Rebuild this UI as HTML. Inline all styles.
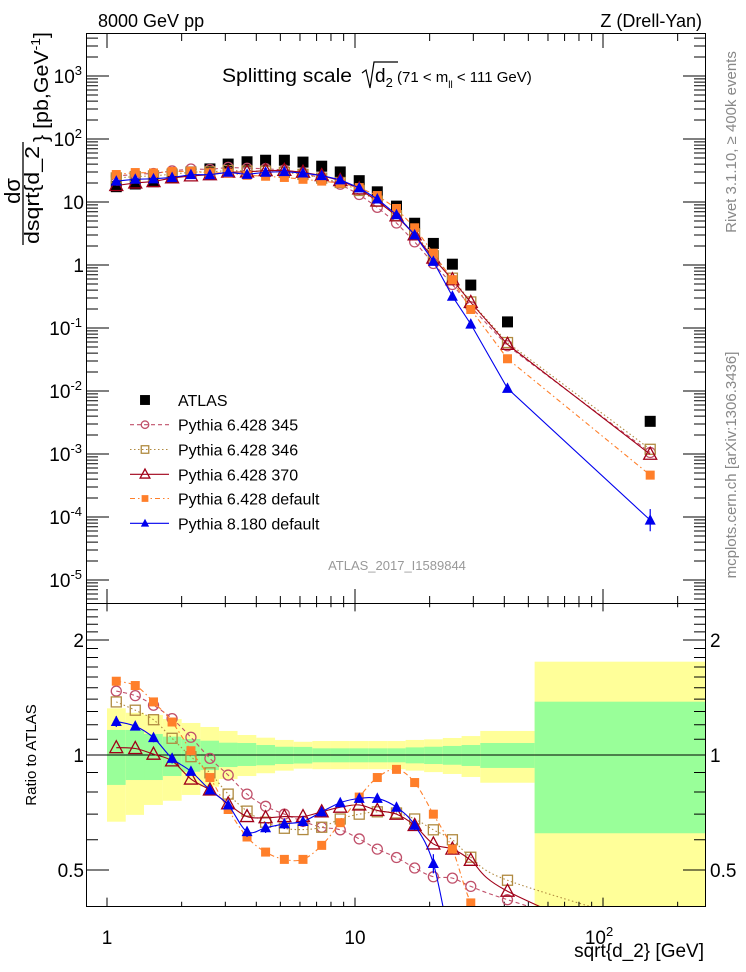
<!DOCTYPE html>
<html><head><meta charset="utf-8"><style>
html,body{margin:0;padding:0;background:#fff;overflow:hidden;width:746px;height:972px;}
svg{display:block;font-family:"Liberation Sans",sans-serif;}
</style></head><body>
<svg id="chart" width="746" height="972" viewBox="0 0 746 972" xmlns="http://www.w3.org/2000/svg">
<defs>
<clipPath id="clipTop"><rect x="87" y="33" width="618" height="570"/></clipPath>
<clipPath id="clipRat"><rect x="87" y="603" width="618" height="304"/></clipPath>
</defs>
<g id="bands" clip-path="url(#clipRat)"></g>
<g id="ticks"></g>
<line x1="87" y1="755" x2="705" y2="755" stroke="#000" stroke-width="1"/>
<g id="seriesTop" clip-path="url(#clipTop)"></g>
<g id="seriesRat" clip-path="url(#clipRat)"></g>
<rect x="86.5" y="33.5" width="619" height="570" fill="none" stroke="#000"/>
<rect x="86.5" y="603.5" width="619" height="303" fill="none" stroke="#000"/>
<g id="labels" font-size="19"></g>
<text x="98" y="27" font-size="18">8000 GeV pp</text>
<text x="702" y="27" font-size="18" text-anchor="end">Z (Drell-Yan)</text>
<g font-size="19">
<text x="222" y="82" textLength="130" lengthAdjust="spacingAndGlyphs">Splitting scale</text>
<path d="M362 73 L366 70 L370 88 L374 62 L398 62" fill="none" stroke="#000" stroke-width="1.2"/>
<text x="375" y="82">d<tspan font-size="13" dy="5">2</tspan><tspan dy="-5" font-size="15"> (71 &lt; m</tspan><tspan font-size="10" dy="6">ll</tspan><tspan dy="-6" font-size="15"> &lt; 111 GeV)</tspan></text>
</g>
<text x="397" y="570" font-size="13" fill="#999" text-anchor="middle">ATLAS_2017_I1589844</text>
<text transform="translate(736,142) rotate(-90)" font-size="15" fill="#888" text-anchor="middle">Rivet 3.1.10, ≥ 400k events</text>
<text transform="translate(736,465) rotate(-90)" font-size="15" fill="#888" text-anchor="middle">mcplots.cern.ch [arXiv:1306.3436]</text>
<g font-size="20">
<text transform="translate(20,191) rotate(-90)" text-anchor="middle" font-size="22">dσ</text>
<line x1="23" y1="142" x2="23" y2="245" stroke="#000" stroke-width="1.3"/>
<text transform="translate(39,244) rotate(-90)" textLength="98" lengthAdjust="spacingAndGlyphs">dsqrt{d_2</text>
<text transform="translate(48,142) rotate(-90)" textLength="110" lengthAdjust="spacingAndGlyphs">} [pb,GeV<tspan font-size="13" dy="-8">-1</tspan><tspan dy="8">]</tspan></text>
</g>
<text transform="translate(36,755) rotate(-90)" font-size="15" text-anchor="middle">Ratio to ATLAS</text>
<text x="704" y="957" font-size="19" text-anchor="end">sqrt{d_2} [GeV]</text>
<g id="legend" font-size="16"></g>
</svg>
<script>
const centers=[1.09,1.30,1.54,1.83,2.18,2.6,3.08,3.67,4.36,5.19,6.17,7.34,8.72,10.4,12.3,14.7,17.4,20.7,24.7,29.3,41.2,155];
const edges=[1.0,1.19,1.41,1.68,2.0,2.38,2.83,3.36,4.0,4.76,5.66,6.73,8.0,9.51,11.3,13.5,16.0,19.0,22.6,26.9,32,53,260];
const atlas=[17.5,19.3,21,25,30,33.5,40,43.5,46,46,43,37,30,21.8,14.5,8.6,4.6,2.2,1.03,0.48,0.125,0.0033];
const yelHi=[1.325,1.29,1.273,1.242,1.213,1.184,1.156,1.128,1.11,1.095,1.083,1.088,1.088,1.088,1.088,1.088,1.095,1.099,1.108,1.121,1.156,1.755];
const grnHi=[1.163,1.163,1.135,1.117,1.101,1.09,1.077,1.075,1.062,1.051,1.05,1.041,1.041,1.041,1.041,1.041,1.047,1.051,1.056,1.062,1.075,1.379];
const grnLo=[0.835,0.86,0.86,0.881,0.904,0.913,0.93,0.936,0.94,0.947,0.95,0.957,0.957,0.957,0.957,0.957,0.951,0.947,0.943,0.936,0.925,0.624];
const yelLo=[0.669,0.697,0.74,0.759,0.786,0.826,0.865,0.881,0.896,0.91,0.921,0.918,0.918,0.918,0.918,0.918,0.91,0.902,0.892,0.876,0.846,0.3];
const r345=[1.47,1.43,1.35,1.245,1.113,0.98,0.886,0.79,0.734,0.70,0.67,0.647,0.637,0.603,0.567,0.539,0.506,0.48,0.476,0.453,0.418,0.32];
const r346=[1.377,1.31,1.237,1.106,0.99,0.898,0.79,0.713,0.667,0.643,0.638,0.647,0.68,0.70,0.71,0.705,0.68,0.637,0.60,0.54,0.47,0.36];
const r370=[1.045,1.04,1.005,0.965,0.865,0.81,0.745,0.69,0.685,0.69,0.69,0.71,0.73,0.74,0.716,0.70,0.654,0.585,0.567,0.53,0.44,0.30];
const rDef=[1.56,1.52,1.377,1.22,1.026,0.873,0.72,0.61,0.557,0.533,0.533,0.58,0.665,0.776,0.873,0.917,0.847,0.70,0.567,0.41,0.26,0.14];
const r8=[1.224,1.19,1.11,0.98,0.906,0.81,0.74,0.63,0.645,0.66,0.67,0.71,0.75,0.77,0.77,0.73,0.655,0.52,0.31,0.24,0.088,0.027];
const r8err=[0.04,0.03,0.03,0.03,0.02,0.02,0.02,0.02,0.02,0.02,0.02,0.02,0.02,0.02,0.02,0.02,0.02,0.03,0.03,0.03,0.01,0.012];
const yTickLabels=["10^3","10^2","10","1","10^-1","10^-2","10^-3","10^-4","10^-5"];
const yTickVals=[1e3,1e2,10,1,0.1,0.01,1e-3,1e-4,1e-5];
const rTickVals=[2,1,0.5];
const rTickLabels=["2","1","0.5"];
const xTickVals=[1,10,100];
const xTickLabels=["1","10","10^2"];

const NS="http://www.w3.org/2000/svg";
const X=v=>107+248*Math.log10(v);
const YT=v=>202-63*(Math.log10(v)-1);
const YR=r=>755-382*Math.log10(r);
function mk(tag,attrs,parent){const e=document.createElementNS(NS,tag);for(const k in attrs)e.setAttribute(k,attrs[k]);parent.appendChild(e);return e;}
const bands=document.getElementById('bands');
for(let i=0;i<centers.length;i++){
  const x0=X(edges[i]),x1=X(edges[i+1]);
  const y=mk('rect',{x:x0,y:YR(yelHi[i]),width:x1-x0,height:YR(yelLo[i])-YR(yelHi[i]),fill:'#ffff99'},bands);
  
  
  const g=mk('rect',{x:x0,y:YR(grnHi[i]),width:x1-x0,height:YR(grnLo[i])-YR(grnHi[i]),fill:'#99ff99'},bands);
  
  
}
const tk=document.getElementById('ticks');
let td='';
for(let d=0;d<=3;d++){for(let m=1;m<10;m++){const v=m*Math.pow(10,d);const x=X(v);if(x<87||x>705)continue;const L=m===1?14:7;
 td+=`M${x} 34v${L}M${x} 603v-${L}M${x} 603v${L*0.6}M${x} 906v-${L*0.6}`;}}
for(let d=-6;d<=3;d++){for(let m=1;m<10;m++){const v=m*Math.pow(10,d);const y=YT(v);if(y<34||y>602)continue;const L=m===1?22:11;
 td+=`M87 ${y}h${L}M705 ${y}h-${L}`;}}
for(let k=4;k<=25;k++){const r=k/10;const y=YR(r);if(y<604||y>906)continue;const L=(r===1||r===2||r===0.5)?22:11;td+=`M87 ${y}h${L}M705 ${y}h-${L}`;}
mk('path',{d:td,stroke:'#000','stroke-width':1,fill:'none'},tk);
const lb=document.getElementById('labels');
function supText(s,x,y,anchor){const t=mk('text',{x:x,y:y,'text-anchor':anchor},lb);const p=s.split('^');t.textContent=p[0];if(p[1]){const ts=mk('tspan',{dy:-8,'font-size':13},t);ts.textContent=p[1];}return t;}
yTickVals.forEach((v,i)=>{const t=supText(yTickLabels[i],yTickLabels[i].includes('^')?82:84,YT(v)+7,'end');});
rTickVals.forEach((v,i)=>{const t=mk('text',{x:84,y:YR(v)+7,'text-anchor':'end'},lb);t.textContent=rTickLabels[i];
 const t2=mk('text',{x:710,y:YR(v)+7},lb);t2.textContent=rTickLabels[i];});
xTickVals.forEach((v,i)=>{const t=supText(xTickLabels[i],X(v)+(i===2?-4:0),944,'middle');});

function straight(pts){return pts.map((p,i)=>(i?'L':'M')+p[0]+' '+p[1]).join('');}
function smooth(pts){if(pts.length<2)return'';let d=`M${pts[0][0]} ${pts[0][1]}`;
 for(let i=0;i<pts.length-1;i++){const p0=pts[Math.max(0,i-1)],p1=pts[i],p2=pts[i+1],p3=pts[Math.min(pts.length-1,i+2)];
  const c1=[p1[0]+(p2[0]-p0[0])/6,p1[1]+(p2[1]-p0[1])/6],c2=[p2[0]-(p3[0]-p1[0])/6,p2[1]-(p3[1]-p1[1])/6];
  d+=`C${c1[0]} ${c1[1]} ${c2[0]} ${c2[1]} ${p2[0]} ${p2[1]}`;}return d;}
function marker(type,x,y,col,parent,s){s=s||1;let e;
 if(type==='circle')e=mk('circle',{cx:x,cy:y,r:5*s,fill:'none',stroke:col,'stroke-width':1.3},parent);
 else if(type==='osq')e=mk('rect',{x:x-5*s,y:y-5*s,width:10*s,height:10*s,fill:'none',stroke:col,'stroke-width':1.3},parent);
 else if(type==='fsq')e=mk('rect',{x:x-4.5*s,y:y-4.5*s,width:9*s,height:9*s,fill:col},parent);
 else if(type==='bsq')e=mk('rect',{x:x-5.5*s,y:y-5.5*s,width:11*s,height:11*s,fill:col},parent);
 else if(type==='otri')e=mk('path',{d:`M${x} ${y-7*s}L${x+6.5*s} ${y+5*s}L${x-6.5*s} ${y+5*s}Z`,fill:'none',stroke:col,'stroke-width':1.3},parent);
 else e=mk('path',{d:`M${x} ${y-6*s}L${x+5.5*s} ${y+4.5*s}L${x-5.5*s} ${y+4.5*s}Z`,fill:col},parent);
 return e;}
const series=[
 {name:'pythia-6428-345',label:'Pythia 6.428 345',r:r345,col:'#c0506a',dash:'4,3',m:'circle'},
 {name:'pythia-6428-346',label:'Pythia 6.428 346',r:r346,col:'#b08a40',dash:'1.5,2.5',m:'osq'},
 {name:'pythia-6428-370',label:'Pythia 6.428 370',r:r370,col:'#a00018',dash:'',m:'otri'},
 {name:'pythia-6428-default',label:'Pythia 6.428 default',r:rDef,col:'#ff7f2a',dash:'5,3,1.5,3',m:'fsq'},
 {name:'pythia-8180-default',label:'Pythia 8.180 default',r:r8,col:'#0000ee',dash:'',m:'ftri'}];
const gT=document.getElementById('seriesTop'),gR=document.getElementById('seriesRat');
atlas.forEach((v,i)=>{const e=marker('bsq',X(centers[i]),YT(v),'#000',gT);});
series.forEach(s=>{
 const ptsT=centers.map((c,i)=>[X(c),YT(atlas[i]*s.r[i])]);
 const ptsR=centers.map((c,i)=>[X(c),YR(s.r[i])]);
 const lt=mk('path',{d:straight(ptsT),fill:'none',stroke:s.col,'stroke-width':1.1,'stroke-dasharray':s.dash},gT);
 
 
 const lr=mk('path',{d:smooth(ptsR),fill:'none',stroke:s.col,'stroke-width':1.1,'stroke-dasharray':s.dash},gR);
 
 
 ptsT.forEach(p=>{const e=marker(s.m,p[0],p[1],s.col,gT);});
 ptsR.forEach(p=>{const e=marker(s.m,p[0],p[1],s.col,gR);});
});
centers.forEach((c,i)=>{const x=X(c);
 const e=mk('line',{x1:x,x2:x,y1:YR(r8[i]+r8err[i]),y2:YR(Math.max(0.01,r8[i]-r8err[i])),stroke:'#0000ee','stroke-width':1.2},gR);
 
 
 const v=atlas[i]*r8[i],f=i===21?1.5:1+r8err[i]/r8[i];
 const e2=mk('line',{x1:x,x2:x,y1:YT(v*f),y2:YT(v/f),stroke:'#0000ee','stroke-width':1.2},gT);
 
 
});
const lg=document.getElementById('legend');
const rowsY=[400,424.7,449.5,474.3,498.5,523.3];
const a=marker('fsq',145,rowsY[0],'#000',lg,1.1);


const at=mk('text',{x:178,y:rowsY[0]+6},lg);at.textContent='ATLAS';


series.forEach((s,i)=>{const y=rowsY[i+1];
 const l=mk('line',{x1:130,x2:169,y1:y,y2:y,stroke:s.col,'stroke-width':1.1,'stroke-dasharray':s.dash},lg);
 
 
 const m=marker(s.m,145,y,s.col,lg,0.75);
 
 
 const t=mk('text',{x:178,y:y+6},lg);t.textContent=s.label;
 
 
});
</script>
</body></html>
